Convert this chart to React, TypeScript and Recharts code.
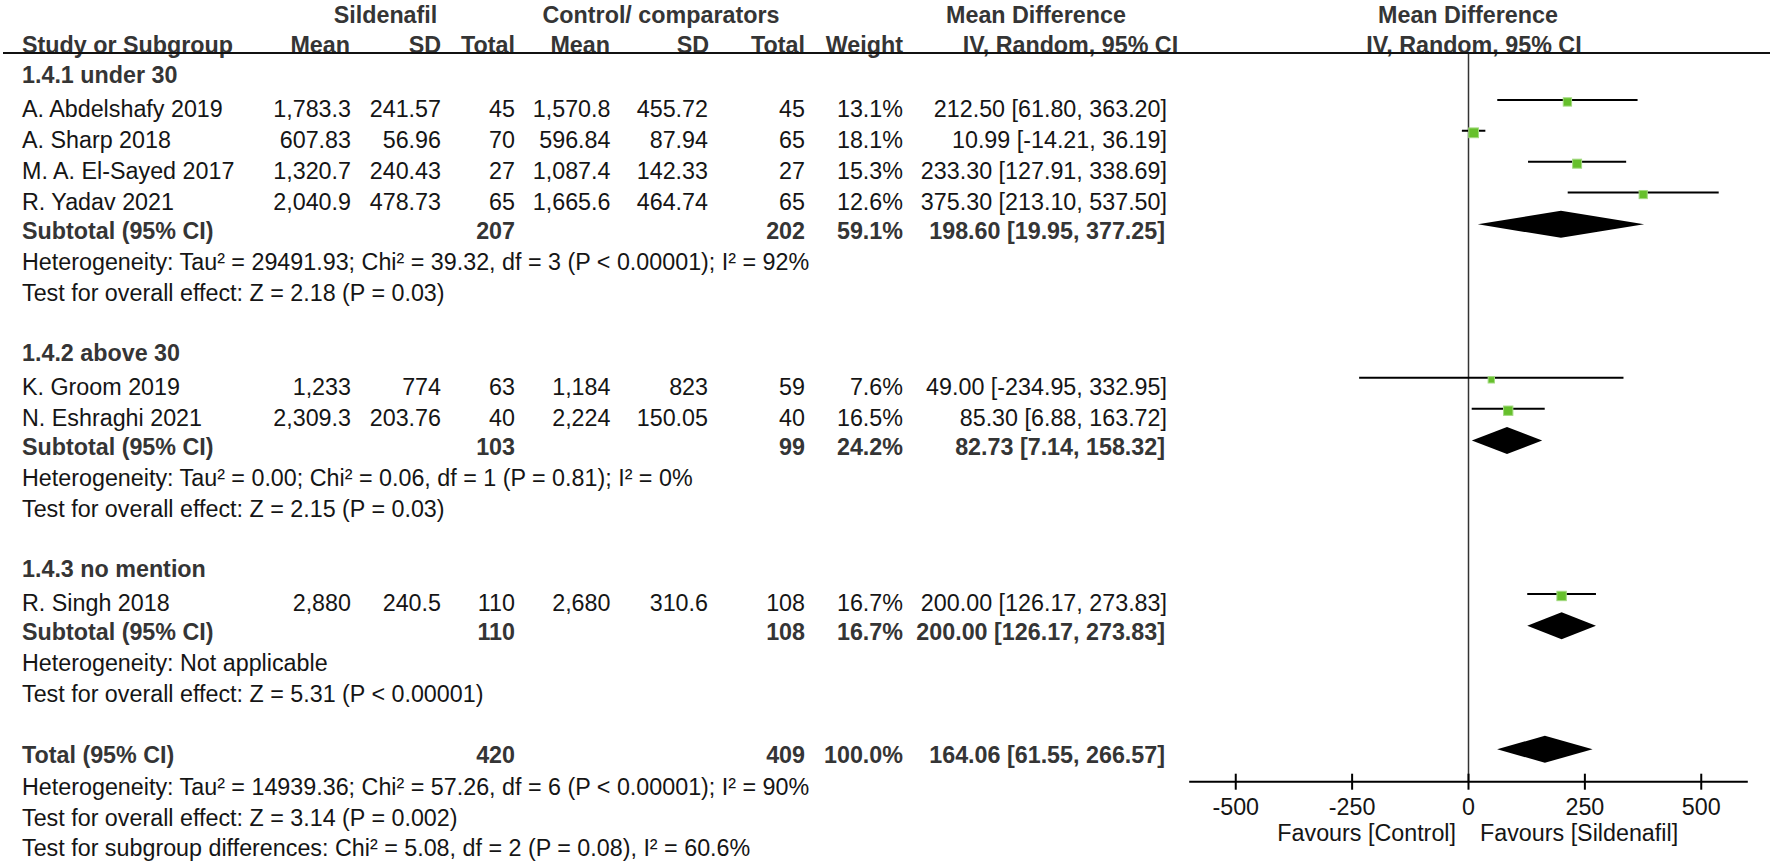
import React from 'react';
import { ComposedChart, Scatter, XAxis, YAxis, ReferenceLine } from 'recharts';

// ---- study level data ----
const studies = [
  'A. Abdelshafy 2019',
  'A. Sharp 2018',
  'M. A. El-Sayed 2017',
  'R. Yadav 2021',
  'K. Groom 2019',
  'N. Eshraghi 2021',
  'R. Singh 2018',
];
const studyRows = [3, 4, 5, 6, 12, 13, 19];
const sildMean = ['1,783.3', '607.83', '1,320.7', '2,040.9', '1,233', '2,309.3', '2,880'];
const sildSD = ['241.57', '56.96', '240.43', '478.73', '774', '203.76', '240.5'];
const sildN = [45, 70, 27, 65, 63, 40, 110];
const ctrlMean = ['1,570.8', '596.84', '1,087.4', '1,665.6', '1,184', '2,224', '2,680'];
const ctrlSD = ['455.72', '87.94', '142.33', '464.74', '823', '150.05', '310.6'];
const ctrlN = [45, 65, 27, 65, 59, 40, 108];
const weights = [13.1, 18.1, 15.3, 12.6, 7.6, 16.5, 16.7];
const md = [212.5, 10.99, 233.3, 375.3, 49.0, 85.3, 200.0];
const ciLow = [61.8, -14.21, 127.91, 213.1, -234.95, 6.88, 126.17];
const ciHigh = [363.2, 36.19, 338.69, 537.5, 332.95, 163.72, 273.83];

// ---- subtotals / total ----
const poolLabels = ['Subtotal (95% CI)', 'Subtotal (95% CI)', 'Subtotal (95% CI)', 'Total (95% CI)'];
const poolRows = [7, 14, 20, 24];
const poolN1 = [207, 103, 110, 420];
const poolN2 = [202, 99, 108, 409];
const poolWeight = ['59.1%', '24.2%', '16.7%', '100.0%'];
const poolMd = [198.6, 82.73, 200.0, 164.06];
const poolLow = [19.95, 7.14, 126.17, 61.55];
const poolHigh = [377.25, 158.32, 273.83, 266.57];

const groupLabels = ['1.4.1 under 30', '1.4.2 above 30', '1.4.3 no mention'];
const groupRows = [2, 11, 18];

const notes = [
  'Heterogeneity: Tau² = 29491.93; Chi² = 39.32, df = 3 (P < 0.00001); I² = 92%',
  'Test for overall effect: Z = 2.18 (P = 0.03)',
  'Heterogeneity: Tau² = 0.00; Chi² = 0.06, df = 1 (P = 0.81); I² = 0%',
  'Test for overall effect: Z = 2.15 (P = 0.03)',
  'Heterogeneity: Not applicable',
  'Test for overall effect: Z = 5.31 (P < 0.00001)',
  'Heterogeneity: Tau² = 14939.36; Chi² = 57.26, df = 6 (P < 0.00001); I² = 90%',
  'Test for overall effect: Z = 3.14 (P = 0.002)',
  'Test for subgroup differences: Chi² = 5.08, df = 2 (P = 0.08), I² = 60.6%',
];
const noteRows = [8, 9, 15, 16, 21, 22, 25, 26, 27];

const xTicks = [-500, -250, 0, 250, 500];

// ---- layout ----
const W = 1772;
const H = 862;
const FONT = '"Liberation Sans", Arial, sans-serif';
const FS = 23.3;
const PLOT_LEFT = 1189.2;
const PLOT_RIGHT = 1747.8;
const PLOT_TOP = 53;
const PLOT_BOTTOM = 781.7;
const Y_TOP = 1.3;
const Y_BOT = 24.9;
const AXIS_H = 60;

const rowY = (r: number) => PLOT_TOP + ((r - Y_TOP) * (PLOT_BOTTOM - PLOT_TOP)) / (Y_BOT - Y_TOP);
const textY = (r: number) => rowY(r + 0.08);

// right edges of the table columns
const COLS = [351, 441, 515, 610.5, 708, 805, 903, 1167];
const NORMAL = '#151515';
const BOLD = '#353535';

const fmtCI = (m: number, l: number, h: number) => `${m.toFixed(2)} [${l.toFixed(2)}, ${h.toFixed(2)}]`;

const AxisTick = (props: any) => {
  const { x, y, payload } = props;
  return (
    <g>
      <line x1={x} x2={x} y1={y - 8} y2={y + 8} stroke="#000" strokeWidth={2} />
      <text x={x} y={y + 25} textAnchor="middle" dominantBaseline="central" fontSize={FS} fontFamily={FONT} fill={NORMAL}>
        {payload.value}
      </text>
    </g>
  );
};

const StudyBox = (p: any) => {
  const s = 2.3 * Math.sqrt(p.payload.w);
  return <rect x={p.cx - s / 2} y={p.cy + 2 - s / 2} width={s} height={s} fill="#66c02c" stroke="#a3da80" strokeWidth={1} />;
};

const Diamond = (p: any) => {
  const [a, b, c] = p.points;
  return <polygon points={`${a.x},${a.y} ${b.x},${b.y - 13.5} ${c.x},${c.y} ${b.x},${b.y + 13.5}`} fill="#000" />;
};

const NoShape = () => null;

const T = ({ x, r, anchor = 'start', bold = false, children }: any) => (
  <text
    x={x}
    y={textY(r)}
    textAnchor={anchor}
    dominantBaseline="central"
    fontSize={FS}
    fontFamily={FONT}
    fontWeight={bold ? 'bold' : 'normal'}
    fill={bold ? BOLD : NORMAL}
  >
    {children}
  </text>
);

export default function App() {
  const boxData = studies.map((_, i) => ({ x: md[i], y: studyRows[i] - 0.18, w: weights[i] }));

  return (
    <div style={{ position: 'absolute', left: 0, top: 0, width: W, height: H, background: '#fff', overflow: 'hidden' }}>
      <ComposedChart
        width={W}
        height={H}
        margin={{ top: PLOT_TOP, left: PLOT_LEFT, right: W - PLOT_RIGHT, bottom: H - PLOT_BOTTOM - AXIS_H }}
      >
        <XAxis
          type="number"
          dataKey="x"
          domain={[-600, 600]}
          ticks={xTicks}
          interval={0}
          allowDataOverflow
          height={AXIS_H}
          axisLine={{ stroke: '#000', strokeWidth: 2 }}
          tickLine={false}
          tickSize={0}
          tickMargin={0}
          tick={<AxisTick />}
        />
        <YAxis type="number" dataKey="y" domain={[Y_TOP, Y_BOT]} reversed hide width={0} allowDataOverflow />
        <ReferenceLine x={0} stroke="#333" strokeWidth={1.5} />
        {studies.map((name, i) => (
          <Scatter
            key={`ci-${name}`}
            data={[
              { x: ciLow[i], y: studyRows[i] - 0.18 },
              { x: ciHigh[i], y: studyRows[i] - 0.18 },
            ]}
            line={{ stroke: '#000', strokeWidth: 2 }}
            shape={NoShape}
            isAnimationActive={false}
          />
        ))}
        <Scatter data={boxData} shape={StudyBox} isAnimationActive={false} />
        {poolRows.map((r, i) => (
          <Scatter
            key={`pool-${r}`}
            data={[
              { x: poolLow[i], y: r - 0.15 },
              { x: poolMd[i], y: r - 0.15 },
              { x: poolHigh[i], y: r - 0.15 },
            ]}
            line={Diamond}
            shape={NoShape}
            isAnimationActive={false}
          />
        ))}
      </ComposedChart>

      <svg width={W} height={H} style={{ position: 'absolute', left: 0, top: 0, pointerEvents: 'none' }}>
        {/* header */}
        <T x={385.5} r={0} anchor="middle" bold>Sildenafil</T>
        <T x={661} r={0} anchor="middle" bold>Control/ comparators</T>
        <T x={1036} r={0} anchor="middle" bold>Mean Difference</T>
        <T x={1468} r={0} anchor="middle" bold>Mean Difference</T>
        <T x={22} r={0.95} bold>Study or Subgroup</T>
        <T x={350} r={0.95} anchor="end" bold>Mean</T>
        <T x={441} r={0.95} anchor="end" bold>SD</T>
        <T x={515} r={0.95} anchor="end" bold>Total</T>
        <T x={610} r={0.95} anchor="end" bold>Mean</T>
        <T x={709} r={0.95} anchor="end" bold>SD</T>
        <T x={805} r={0.95} anchor="end" bold>Total</T>
        <T x={903} r={0.95} anchor="end" bold>Weight</T>
        <T x={1070.5} r={0.95} anchor="middle" bold>IV, Random, 95% CI</T>
        <T x={1474} r={0.95} anchor="middle" bold>IV, Random, 95% CI</T>
        <line x1={3} x2={1770} y1={PLOT_TOP} y2={PLOT_TOP} stroke="#111" strokeWidth={2} />

        {groupLabels.map((g, i) => (
          <T key={g} x={22} r={groupRows[i] - 0.06} bold>{g}</T>
        ))}

        {studies.map((name, i) => {
          const r = studyRows[i] + 0.03;
          return (
            <g key={name}>
              <T x={22} r={r}>{name}</T>
              <T x={COLS[0]} r={r} anchor="end">{sildMean[i]}</T>
              <T x={COLS[1]} r={r} anchor="end">{sildSD[i]}</T>
              <T x={COLS[2]} r={r} anchor="end">{sildN[i]}</T>
              <T x={COLS[3]} r={r} anchor="end">{ctrlMean[i]}</T>
              <T x={COLS[4]} r={r} anchor="end">{ctrlSD[i]}</T>
              <T x={COLS[5]} r={r} anchor="end">{ctrlN[i]}</T>
              <T x={COLS[6]} r={r} anchor="end">{`${weights[i].toFixed(1)}%`}</T>
              <T x={COLS[7]} r={r} anchor="end">{fmtCI(md[i], ciLow[i], ciHigh[i])}</T>
            </g>
          );
        })}

        {poolRows.map((r, i) => (
          <g key={`pt-${r}`}>
            <T x={22} r={r - 0.03} bold>{poolLabels[i]}</T>
            <T x={COLS[2]} r={r - 0.03} anchor="end" bold>{poolN1[i]}</T>
            <T x={COLS[5]} r={r - 0.03} anchor="end" bold>{poolN2[i]}</T>
            <T x={COLS[6]} r={r - 0.03} anchor="end" bold>{poolWeight[i]}</T>
            <T x={COLS[7] - 2} r={r - 0.03} anchor="end" bold>{fmtCI(poolMd[i], poolLow[i], poolHigh[i])}</T>
          </g>
        ))}

        {notes.map((n, i) => (
          <T key={i} x={22} r={noteRows[i] - 0.02}>{n}</T>
        ))}

        <text x={1456} y={833} textAnchor="end" dominantBaseline="central" fontSize={FS} fontFamily={FONT} fill={NORMAL}>
          Favours [Control]
        </text>
        <text x={1480} y={833} textAnchor="start" dominantBaseline="central" fontSize={FS} fontFamily={FONT} fill={NORMAL}>
          Favours [Sildenafil]
        </text>
      </svg>
    </div>
  );
}
